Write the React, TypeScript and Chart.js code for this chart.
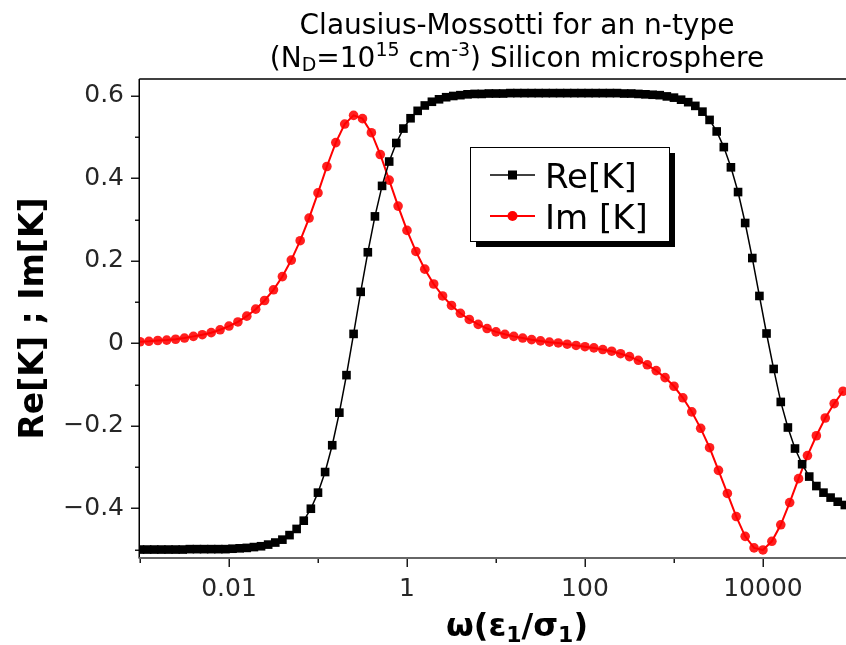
import { useEffect, useRef } from "react";
import { Chart, registerables } from "chart.js";

Chart.register(...registerables);

// Real part of the Clausius-Mossotti factor, sampled 12.5 points per decade from ω = 1e-3
const reLogStart = -3;
const reLogStep = 0.08;
const reValues = [
  -0.5, -0.5, -0.5, -0.5, -0.5, -0.5, -0.5, -0.499, -0.499, -0.499,
  -0.499, -0.499, -0.499, -0.498, -0.497, -0.496, -0.494, -0.492, -0.488, -0.483,
  -0.476, -0.465, -0.45, -0.43, -0.401, -0.362, -0.312, -0.247, -0.168, -0.077,
  0.023, 0.125, 0.221, 0.308, 0.382, 0.441, 0.486, 0.521, 0.546, 0.564,
  0.577, 0.586, 0.592, 0.597, 0.6, 0.602, 0.604, 0.605, 0.605, 0.606,
  0.606, 0.606, 0.607, 0.607, 0.607, 0.607, 0.607, 0.607, 0.607, 0.607,
  0.607, 0.607, 0.607, 0.607, 0.607, 0.607, 0.607, 0.607, 0.606, 0.606,
  0.605, 0.604, 0.603, 0.602, 0.599, 0.596, 0.591, 0.585, 0.576, 0.562,
  0.542, 0.514, 0.476, 0.427, 0.367, 0.292, 0.207, 0.115, 0.024, -0.062,
  -0.142, -0.204, -0.255, -0.293, -0.323, -0.346, -0.362, -0.374, -0.384, -0.392,
];

// Imaginary part, sampled 10 points per decade from ω = 1e-3
const imLogStart = -3;
const imLogStep = 0.1;
const imValues = [
  0.004, 0.005, 0.007, 0.008, 0.01, 0.013, 0.017, 0.021, 0.026, 0.033,
  0.042, 0.052, 0.066, 0.083, 0.104, 0.13, 0.162, 0.202, 0.249, 0.304,
  0.365, 0.429, 0.487, 0.532, 0.553, 0.545, 0.511, 0.458, 0.396, 0.333,
  0.274, 0.223, 0.18, 0.144, 0.115, 0.092, 0.073, 0.058, 0.046, 0.036,
  0.028, 0.022, 0.017, 0.013, 0.009, 0.006, 0.003, 0.001, -0.002, -0.005,
  -0.008, -0.011, -0.015, -0.019, -0.025, -0.032, -0.041, -0.052, -0.066, -0.083,
  -0.104, -0.132, -0.166, -0.206, -0.253, -0.308, -0.364, -0.42, -0.468, -0.496,
  -0.501, -0.48, -0.44, -0.386, -0.328, -0.272, -0.224, -0.181, -0.146, -0.116,
];

const seriesNames = ["Re[K]", "Im [K]"];

const xTickValues = [0.001, 0.01, 0.1, 1, 10, 100, 1000, 10000];
const xTickLabels = ["", "0.01", "", "1", "", "100", "", "10000"];
const yTickValues = [-0.5, -0.4, -0.3, -0.2, -0.1, 0, 0.1, 0.2, 0.3, 0.4, 0.5, 0.6];
const yTickLabels = ["", "\u22120.4", "", "\u22120.2", "", "0", "", "0.2", "", "0.4", "", "0.6"];

const X_MIN = 1e-3;
const X_MAX = Math.pow(10, 4.933);
const Y_MIN = -0.5205;
const Y_MAX = 0.6412;

const FONT = '"DejaVu Sans", "Liberation Sans", sans-serif';

type Run = { text: string; size: number; dy: number };

function drawRuns(ctx: CanvasRenderingContext2D, runs: Run[], cx: number, baseline: number, weight: string) {
  let total = 0;
  const widths: number[] = [];
  for (const r of runs) {
    ctx.font = `${weight} ${r.size}px ${FONT}`;
    const w = ctx.measureText(r.text).width;
    widths.push(w);
    total += w;
  }
  let x = cx - total / 2;
  ctx.textAlign = "left";
  ctx.textBaseline = "alphabetic";
  runs.forEach((r, i) => {
    ctx.font = `${weight} ${r.size}px ${FONT}`;
    ctx.fillText(r.text, x, baseline + r.dy);
    x += widths[i];
  });
}

function seg(ctx: CanvasRenderingContext2D, x1: number, y1: number, x2: number, y2: number) {
  ctx.beginPath();
  ctx.moveTo(x1, y1);
  ctx.lineTo(x2, y2);
  ctx.stroke();
}

// Frame, tick marks of two lengths, titles and the shadowed legend
const axesPlugin = {
  id: "axesFrame",
  beforeDatasetsDraw(chart: any) {
    const { ctx, chartArea: a, scales } = chart;
    ctx.save();
    ctx.lineCap = "butt";
    ctx.strokeStyle = "#1a1a1a";
    ctx.lineWidth = 1.5;
    yTickValues.forEach((v, i) => {
      const y = Math.round(scales.y.getPixelForValue(v)) + 0.25;
      const len = yTickLabels[i] ? 9 : 5;
      seg(ctx, a.left - len, y, a.left, y);
    });
    xTickValues.forEach((v, i) => {
      const x = Math.round(scales.x.getPixelForValue(v)) + 0.25;
      const len = xTickLabels[i] ? 9 : 5;
      seg(ctx, x, a.bottom, x, a.bottom + len);
    });
    ctx.strokeStyle = "#000";
    ctx.lineWidth = 1.5;
    seg(ctx, a.left - 0.75, a.top, a.right, a.top);
    seg(ctx, a.left - 0.75, a.top, a.left - 0.75, a.bottom);
    ctx.strokeStyle = "#666";
    ctx.lineWidth = 2;
    seg(ctx, a.left - 1.5, a.bottom, a.right, a.bottom);
    ctx.restore();
  },
  afterDraw(chart: any) {
    const { ctx, chartArea: a } = chart;
    ctx.save();
    ctx.fillStyle = "#000";

    // title
    const cx = 517;
    drawRuns(ctx, [{ text: "Clausius-Mossotti for an n-type", size: 28, dy: 0 }], cx, 34, "normal");
    drawRuns(
      ctx,
      [
        { text: "(N", size: 28, dy: 0 },
        { text: "D", size: 19, dy: 4 },
        { text: "=10", size: 28, dy: 0 },
        { text: "15", size: 19, dy: -11 },
        { text: " cm", size: 28, dy: 0 },
        { text: "-3", size: 19, dy: -11 },
        { text: ") Silicon microsphere", size: 28, dy: 0 },
      ],
      cx,
      67,
      "normal"
    );

    // x axis title
    drawRuns(
      ctx,
      [
        { text: "\u03C9(\u03B5", size: 32, dy: 0 },
        { text: "1", size: 22, dy: 6 },
        { text: "/\u03C3", size: 32, dy: 0 },
        { text: "1", size: 22, dy: 6 },
        { text: ")", size: 32, dy: 0 },
      ],
      cx,
      636,
      "bold"
    );

    // y axis title
    ctx.save();
    ctx.translate(43, (a.top + a.bottom) / 2);
    ctx.rotate(-Math.PI / 2);
    ctx.font = `bold 33px ${FONT}`;
    ctx.textAlign = "center";
    ctx.textBaseline = "alphabetic";
    ctx.fillText("Re[K] ; Im[K]", 0, 0);
    ctx.restore();

    // legend with drop shadow
    const lx = 470, ly = 147, lw = 199, lh = 94;
    ctx.fillStyle = "#000";
    ctx.fillRect(lx + 6, ly + 6, lw, lh);
    ctx.fillStyle = "#fff";
    ctx.fillRect(lx, ly, lw, lh);
    ctx.strokeStyle = "#000";
    ctx.lineWidth = 1;
    ctx.strokeRect(lx + 0.5, ly + 0.5, lw, lh);

    const rows = [
      { y: 175, color: "#000", width: 1.5, marker: "rect", text: seriesNames[0], base: 188 },
      { y: 216, color: "#ff0000", width: 2, marker: "circle", text: seriesNames[1], base: 229 },
    ];
    rows.forEach((r) => {
      ctx.strokeStyle = r.color;
      ctx.lineWidth = r.width;
      seg(ctx, 490, r.y, 535, r.y);
      ctx.fillStyle = r.color;
      if (r.marker === "rect") {
        ctx.fillRect(512.5 - 4.5, r.y - 4.5, 9, 9);
      } else {
        ctx.beginPath();
        ctx.arc(512.5, r.y, 5, 0, Math.PI * 2);
        ctx.fill();
      }
      ctx.fillStyle = "#000";
      ctx.font = `34px ${FONT}`;
      ctx.textAlign = "left";
      ctx.textBaseline = "alphabetic";
      ctx.fillText(r.text, 545, r.base);
    });
    ctx.restore();
  },
};

export default function App() {
  const canvasRef = useRef<HTMLCanvasElement | null>(null);

  useEffect(() => {
    const canvas = canvasRef.current;
    if (!canvas) return;

    const rePoints = reValues.map((y, i) => ({ x: Math.pow(10, reLogStart + i * reLogStep), y }));
    const imPoints = imValues.map((y, i) => ({ x: Math.pow(10, imLogStart + i * imLogStep), y }));

    const tickFont = { family: FONT, size: 25 };

    const chart = new Chart(canvas, {
      type: "line",
      data: {
        datasets: [
          {
            label: seriesNames[0],
            data: rePoints,
            borderColor: "#000",
            backgroundColor: "#000",
            borderWidth: 1.5,
            pointStyle: "rect",
            pointRadius: 6.1,
            pointBorderWidth: 0,
            pointBackgroundColor: "#000",
            tension: 0,
          },
          {
            label: seriesNames[1],
            data: imPoints,
            borderColor: "#ff0000",
            backgroundColor: "#ff0000",
            borderWidth: 2,
            pointStyle: "circle",
            pointRadius: 4.8,
            pointBorderWidth: 0,
            pointBackgroundColor: "rgba(255,0,0,0.88)",
            tension: 0,
          },
        ],
      },
      options: {
        animation: false,
        responsive: false,
        devicePixelRatio: 1,
        events: [],
        layout: { autoPadding: false, padding: { top: 79, left: 0, right: 0, bottom: 0 } },
        plugins: {
          legend: { display: false },
          tooltip: { enabled: false },
          title: { display: false },
        },
        scales: {
          x: {
            type: "logarithmic",
            min: X_MIN,
            max: X_MAX,
            grid: { display: false, drawTicks: false },
            border: { display: false },
            afterBuildTicks: (s: any) => {
              s.ticks = xTickValues.map((value) => ({ value }));
            },
            afterFit: (s: any) => {
              s.height = 87;
              s.paddingLeft = 0;
              s.paddingRight = 0;
            },
            ticks: {
              autoSkip: false,
              maxRotation: 0,
              minRotation: 0,
              padding: 16,
              color: "#262626",
              font: tickFont,
              callback: (_v: any, i: number) => xTickLabels[i],
            },
          },
          y: {
            type: "linear",
            min: Y_MIN,
            max: Y_MAX,
            grid: { display: false, drawTicks: false },
            border: { display: false },
            afterBuildTicks: (s: any) => {
              s.ticks = yTickValues.map((value) => ({ value }));
            },
            afterFit: (s: any) => {
              s.width = 140;
              s.paddingTop = 0;
              s.paddingBottom = 0;
            },
            ticks: {
              autoSkip: false,
              padding: 16,
              color: "#262626",
              font: tickFont,
              callback: (_v: any, i: number) => yTickLabels[i],
            },
          },
        },
      },
      plugins: [axesPlugin],
    } as any);

    return () => chart.destroy();
  }, []);

  return (
    <div style={{ position: "fixed", left: 0, top: 0, width: 846, height: 645, background: "#fff" }}>
      <canvas ref={canvasRef} width={846} height={645} />
    </div>
  );
}
